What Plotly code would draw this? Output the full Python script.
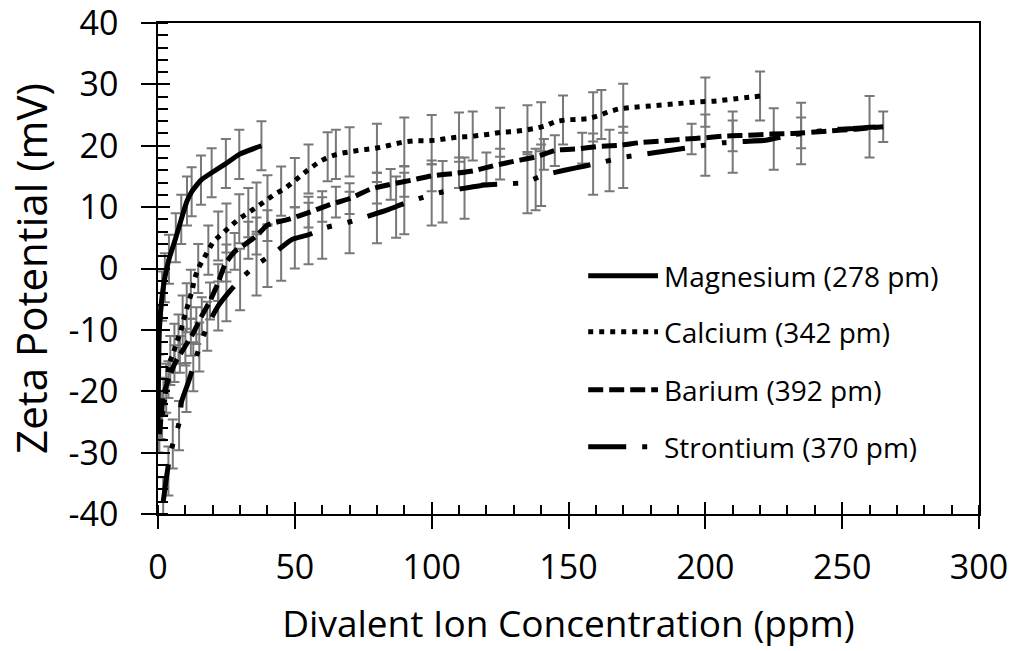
import plotly.graph_objects as go

# ---------------- data ----------------
series_names = ["Magnesium (278 pm)", "Calcium (342 pm)", "Barium (392 pm)", "Strontium (370 pm)"]

# Magnesium: measured points (also used for its curve)
mg_x = [0, 0.5, 1.5, 2.5, 4, 6.5, 8.5, 10.6, 12.3, 15.7, 19.6, 24.8, 29.7, 37.8]
mg_y = [-26, -10, -4.5, -1.5, 1.5, 5, 8, 11, 12.5, 14.4, 15.6, 17.1, 18.6, 20.0]
mg_err = [4, 4, 4, 4, 4, 4, 4, 4, 4, 4, 4, 4, 4, 4]

# Calcium: curve trace
ca_line_x = [1.5, 3, 4.1, 5.6, 6.8, 8.2, 9.2, 10.2, 11.4, 12.5, 13.3, 14.7, 16.6, 18.4, 20.5, 23.5,
             26.5, 29.7, 33, 36, 39.5, 42.7, 46.2, 49.4, 52.4, 55.5, 59, 62.5, 66.1, 69.9, 74, 78,
             81.9, 85.7, 89.6, 93.6, 97.8, 101.7, 105.7, 109.7, 113.7, 117.6, 121.5, 125.5, 129.5,
             133.4, 137.4, 141.3, 145, 149, 153, 156.9, 161, 164.5, 168.4, 172.2, 180.4, 188.3,
             196.2, 204.1, 212, 216, 220.2]
ca_line_y = [-24, -19.5, -15.5, -13.8, -12, -10.4, -8.6, -7, -5.2, -3.5, -1.8, 0, 1.5, 3, 4.5, 5.7,
             6.9, 8.1, 9.1, 10, 11.1, 12.1, 13, 14.1, 15.2, 16.3, 17.4, 18.2, 18.7, 19.0, 19.3, 19.5,
             19.8, 20.2, 20.6, 20.8, 20.8, 20.9, 21.2, 21.4, 21.5, 21.7, 21.9, 22.2, 22.3,
             22.5, 22.8, 23.2, 23.9, 24.2, 24.3, 24.4, 24.9, 25.5, 26, 26.2, 26.5, 26.8,
             27.1, 27.3, 27.7, 27.9, 28.1]
# Calcium: measured points with error bars
ca_x = [1.5, 3, 4.5, 6, 7.5, 9, 10.5, 12, 14.7, 18.4, 22, 25, 29.7, 33, 36, 40, 45, 50, 55, 62, 65,
        70, 80, 90, 100, 110, 115, 125, 135, 140, 148, 159, 162, 170, 200, 220]
ca_y = [-24, -19.5, -15, -13, -11.5, -8.4, -6.4, -4.2, 0, 3, 5.3, 6.6, 8.1, 9.1, 10, 11.2, 12.6, 14.0,
        16.2, 18.2, 18.6, 19.0, 19.6, 20.6, 21.0, 21.4, 21.6, 22.2, 22.6, 23.1, 24.2, 24.7, 25.1,
        26.1, 27.1, 28.1]
ca_err = [4, 4, 4, 4, 4, 4, 4, 4, 4, 4, 4, 4, 4, 4, 4, 4, 4, 4, 4, 4, 4, 4, 4, 4, 4, 4,
          4, 4, 4, 4, 4, 4, 4, 4, 4, 4]

# Barium: curve trace
ba_line_x = [0.5, 0.9, 1.9, 3.8, 6.2, 9.2, 12.9, 15.9, 19, 22, 24.5, 28.1, 32, 36, 39.7, 42.1, 47.6,
             55.5, 62.8, 70.1, 77.5, 84.8, 92.7, 100, 108.5, 115.2, 123.1, 130.4, 138.3, 145.6,
             153.6, 161.5, 169.4, 176, 184.6, 192.5, 199.9, 207.8, 215.7, 224.2, 232.1, 245, 255, 265]
ba_line_y = [-27, -25.2, -20.8, -18.1, -15.4, -13.2, -10.5, -7.8, -5.3, -2.3, 0.7, 2.8, 4, 5.3, 7.0,
             7.4, 8, 9.2, 10.4, 11.4, 12.9, 13.7, 14.4, 15.1, 15.5, 15.9, 16.8, 17.5, 18.2, 19.3,
             19.5, 19.9, 20.1, 20.5, 20.8, 21.1, 21.3, 21.6, 21.7, 21.9, 22.0, 22.4, 22.7, 23.1]
# Barium: measured points with error bars
ba_x = [0.5, 1, 2, 3.8, 6, 8, 10, 12, 14, 16, 19, 22, 25, 28, 33, 36, 40, 55, 60, 65, 70, 80, 85,
        90, 100, 110, 120, 125, 141, 145, 155, 195, 210, 235, 265]
ba_y = [-27, -24.8, -20.8, -18.1, -15.5, -14, -12.8, -11.2, -9.3, -7.7, -5.3, -2.3, 0.9, 2.8, 4.6,
        5.3, 7.0, 9.2, 10.1, 10.8, 11.4, 13.1, 13.7, 14.2, 15.1, 15.6, 16.4, 17.0, 18.6, 19.2,
        19.6, 21.1, 21.6, 22.1, 23.1]
ba_err = [3, 3, 3, 3, 3, 3, 3, 3, 3, 3, 3, 3, 3, 3, 3, 3, 2.5, 2.5, 2.5, 2.5, 2.5, 2.5, 2.5,
          2.5, 2.5, 2.5, 2.5, 2.5, 2.5, 2.5, 2.5, 2.5, 2.5, 2.5, 2.5]

# Strontium: curve trace
sr_line_x = [1.9, 2.8, 3.8, 5.4, 7.7, 8.6, 10.4, 11.4, 12.9, 15.1, 18, 22, 26, 30, 36, 42.7, 48.8,
             55, 61.6, 69.2, 76.5, 84.1, 90, 96.9, 104.2, 112.2, 119.5, 127, 134, 140.8, 148.5,
             156, 163, 169.7, 177.3, 185, 192.5, 200, 206.6, 214, 222, 229.7, 237, 245.5, 254,
             260, 265]
sr_line_y = [-38, -35, -32, -28.6, -25.2, -21.7, -19.4, -18.1, -16, -12.8, -9.4, -6.1, -3.8, -1.8,
             0.6, 2.6, 4.7, 5.5, 6.7, 7.5, 8.5, 9.6, 10.6, 11.6, 12.5, 13.1, 13.6, 13.8, 14.0, 15.2,
             16, 16.7, 17.4, 18.1, 18.6, 19.1, 19.6, 20.1, 20.5, 20.7, 20.9, 21.6, 22.1, 22.6, 22.8,
             23.0, 23.1]
# Strontium: measured points with error bars
sr_x = [1.9, 3.8, 5.4, 7.7, 10.4, 12.9, 15.1, 18, 22, 25, 30, 36, 40, 45, 50, 55, 60, 70, 80, 87,
        90, 100, 104, 112, 135, 138, 140, 159, 165, 170, 200, 210, 225, 235, 260]
sr_y = [-38, -33, -28.6, -25.6, -19.4, -16, -12.8, -9.4, -6.1, -4.6, -1.8, 0.6, 2, 3, 5, 5.7, 6.6,
        7.5, 9.1, 10, 10.6, 12, 12.5, 13.1, 14, 14.5, 15.2, 17, 17.6, 18.1, 20.1, 20.6, 21.1, 22,
        23.1]
sr_err = [4, 4, 4, 4, 4, 4, 4, 4, 4, 4, 5, 5, 5, 5, 5, 5, 5, 5, 5, 5,
          5, 5, 5, 5, 5, 5, 5, 5, 5, 5, 5, 5, 5, 5, 5]

x_tick_vals = [0, 50, 100, 150, 200, 250, 300]
y_tick_vals = [40, 30, 20, 10, 0, -10, -20, -30, -40]
y_tick_text = ["40", "30", "20", "10", "0", "-10", "-20", "-30", "-40"]

# ---------------- styling ----------------
FONT = "Open Sans"
ERR_COLOR = "#787878"
dashes = ["solid", "5px,6px", "15px,6px", "38px,16px,5px,16px,5px,16px"]

fig = go.Figure()

err_sets = [(mg_x, mg_y, mg_err), (ca_x, ca_y, ca_err), (ba_x, ba_y, ba_err), (sr_x, sr_y, sr_err)]
for (ex, ey, ee), name in zip(err_sets, series_names):
    assert len(ex) == len(ey) == len(ee)
    fig.add_trace(go.Scatter(
        x=ex, y=ey, mode="markers", marker=dict(size=0.1, opacity=0),
        error_y=dict(type="data", array=ee, visible=True, color=ERR_COLOR, thickness=2, width=5),
        showlegend=False, hoverinfo="skip", name=name + " error"))

line_sets = [(mg_x, mg_y), (ca_line_x, ca_line_y), (ba_line_x, ba_line_y), (sr_line_x, sr_line_y)]
for (lx, ly), name, dash in zip(line_sets, series_names, dashes):
    assert len(lx) == len(ly)
    fig.add_trace(go.Scatter(
        x=lx, y=ly, mode="lines", name=name, showlegend=False,
        line=dict(color="black", width=5, dash=dash, shape="spline", smoothing=0.5)))

axis_common = dict(showgrid=False, zeroline=False, linecolor="black", linewidth=1.5,
                   tickcolor="black", tickwidth=1.5, mirror=True, showline=True,
                   ticklabeloverflow="allow", automargin=False,
                   tickfont=dict(family=FONT, size=34, color="black"))

fig.update_layout(
    template="none",
    width=1017, height=651,
    margin=dict(l=158, r=38, t=23, b=137, autoexpand=False),
    paper_bgcolor="white", plot_bgcolor="white",
    font=dict(family=FONT, color="black"),
    xaxis=dict(range=[0, 300], tickvals=x_tick_vals, ticks="outside", ticklen=13,
               ticklabelstandoff=9,
               minor=dict(dtick=10, ticks="inside", ticklen=9, tickcolor="black", tickwidth=1.5),
               title=dict(text="Divalent Ion Concentration (ppm)",
                          font=dict(family=FONT, size=37, color="black"), standoff=24),
               **axis_common),
    yaxis=dict(range=[-40, 40], tickvals=y_tick_vals, ticktext=y_tick_text, ticks="outside",
               ticklen=15, ticklabelstandoff=16,
               minor=dict(dtick=2, ticks="inside", ticklen=10, tickcolor="black", tickwidth=1.5),
               title=dict(text="Zeta Potential (mV)",
                          font=dict(family=FONT, size=42, color="black"), standoff=8),
               **axis_common),
    xaxis2=dict(range=[0, 300], overlaying="x", anchor="y", side="bottom", tickvals=x_tick_vals,
                ticks="inside", ticklen=12, tickwidth=1.5, tickcolor="black", automargin=False,
                showticklabels=False, showline=False, showgrid=False, zeroline=False),
    yaxis2=dict(range=[-40, 40], overlaying="y", anchor="x", side="left", tickvals=y_tick_vals,
                ticks="inside", ticklen=12, tickwidth=1.5, tickcolor="black", automargin=False,
                showticklabels=False, showline=False, showgrid=False, zeroline=False),
)

# invisible helper trace so the overlay axes get drawn
fig.add_trace(go.Scatter(x=[0], y=[0], xaxis="x2", yaxis="y2", mode="markers",
                         marker=dict(opacity=0, size=0.1), showlegend=False, hoverinfo="skip"))

# ---------------- custom legend (long line samples like the original) ----------------
leg_x0, leg_x1, leg_tx = 0.524, 0.609, 0.614
leg_ys = [0.485, 0.371, 0.253, 0.137]
for name, dash, ly in zip(series_names, dashes, leg_ys):
    fig.add_shape(type="line", xref="paper", yref="paper", x0=leg_x0, x1=leg_x1, y0=ly, y1=ly,
                  line=dict(color="black", width=5, dash=dash))
    fig.add_annotation(xref="paper", yref="paper", x=leg_tx, y=ly, text=name, showarrow=False,
                       xanchor="left", yanchor="middle",
                       font=dict(family=FONT, size=28, color="black"))

fig.write_html("out.html")
